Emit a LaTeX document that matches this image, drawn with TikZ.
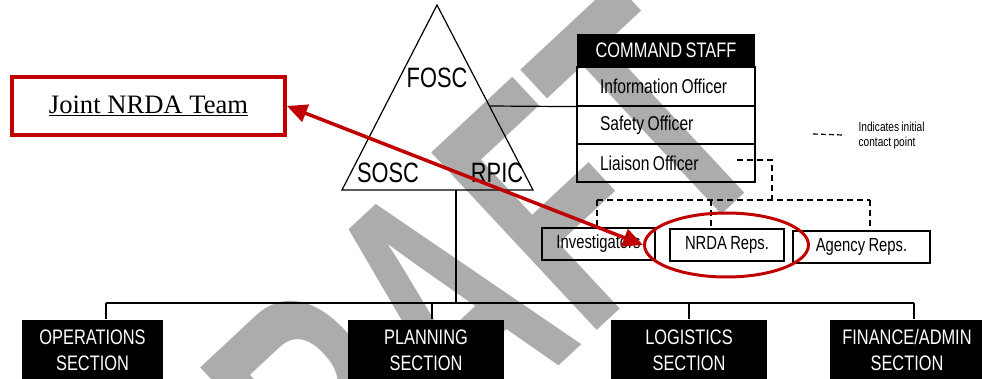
\documentclass[tikz,border=0pt]{standalone}
\usepackage{fontspec}
\usepackage{tikz}
\usetikzlibrary{shapes, arrows.meta, positioning}
\newfontfamily\orgfont{Liberation Sans}[FakeStretch=0.78, WordSpace=0.8]
\newfontfamily\notefont{Liberation Serif}
\newfontfamily\wmfont{Liberation Sans}[FakeStretch=0.62]
\definecolor{markred}{RGB}{192,0,0}
\definecolor{wmgray}{RGB}{172,172,172}

\begin{document}
\begin{tikzpicture}[x=1pt, y=-1pt, line width=1.2pt,
    section/.style={fill=black, text=white, minimum height=60pt, align=center, inner sep=0pt,
        font=\orgfont\fontsize{21}{26}\selectfont},
    staffrow/.style={draw, minimum width=178pt, text width=132pt, align=flush left, inner sep=0pt,
        font=\orgfont\fontsize{20}{24}\selectfont},
    repbox/.style={draw, minimum height=32pt, inner sep=0pt, font=\orgfont\fontsize{19}{22}\selectfont},
    initial/.style={dash pattern=on 6pt off 4pt},
    trilabel/.style={inner sep=0pt, font=\orgfont\fontsize{28}{30}\selectfont},
    markbox/.style={draw=markred, line width=4pt, inner sep=0pt},
    ]
    \useasboundingbox (0,0) rectangle (982,379);

    % watermark
    \begin{scope}
        \clip (0,0) rectangle (982,379);
        \node[rotate=43, text=wmgray, inner sep=0pt, font=\wmfont\bfseries\fontsize{353}{353}\selectfont] (wm) at (428,322) {DRAFT};
    \end{scope}

    % triangle
    \coordinate (apex) at (437,5);
    \coordinate (trileft) at (342,190);
    \coordinate (triright) at (533,190);
    \coordinate (tribase) at (456,190);
    \coordinate (trihit) at (489,106);
    \draw (apex) -- (trileft) -- (triright) -- cycle;
    \node[trilabel] (fosc) at (437,78) {FOSC};
    \node[trilabel] (sosc) at (388,173) {SOSC};
    \node[trilabel] (rpic) at (497,173) {RPIC};

    % command staff
    \node[fill=black, text=white, minimum width=178pt, minimum height=33pt, inner sep=0pt,
        font=\orgfont\fontsize{21}{24}\selectfont] (staff) at (666,50.5) {COMMAND STAFF};
    \node[staffrow, minimum height=39pt] (info) at (666,86.5) {Information Officer};
    \node[staffrow, minimum height=38pt] (safety) at (666,125) {Safety Officer};
    \node[staffrow, minimum height=38pt] (liaison) at (666,163) {Liaison Officer};
    \draw (trihit) -- (info.south west);

    % legend
    \coordinate (lgd) at (813,134);
    \node[anchor=west, inner sep=0pt, align=left, font=\orgfont\fontsize{13}{15}\selectfont] (lgdtxt) at (858,135.5) {Indicates initial\\contact point};
    \draw[dash pattern=on 5pt off 3pt, shorten >=13pt] (lgd) -- (lgdtxt.west);

    % reps
    \node[repbox, minimum width=113pt] (inv) at (598.5,244) {Investigators};
    \node[repbox, minimum width=114pt] (nrda) at (727,245) {NRDA Reps.};
    \node[repbox, minimum width=137pt] (agency) at (861.5,247) {Agency Reps.};

    \coordinate (ldash) at (737,160);
    \coordinate (dmid) at (772,200);
    \coordinate (dl) at (597,200);
    \coordinate (dn) at (711,200);
    \coordinate (dr) at (870,200);
    \draw[initial] (ldash) -| (dmid);
    \draw[initial] (dl) -- (dr);
    \draw[initial] (dl) -- (dl |- inv.north);
    \draw[initial] (dn) -- (dn |- nrda.north);
    \draw[initial] (dr) -- (dr |- agency.north);

    % sections
    \node[section, minimum width=141pt] (ops) at (92.5,350) {OPERATIONS\\SECTION};
    \node[section, minimum width=156pt] (plan) at (426,350) {PLANNING\\SECTION};
    \node[section, minimum width=156pt] (logi) at (689,350) {LOGISTICS\\SECTION};
    \node[section, minimum width=155pt] (fin) at (907,350) {FINANCE/ADMIN\\SECTION};

    \coordinate (busL) at (106,303);
    \coordinate (busR) at (914,303);
    \draw (busL) -- (busR);
    \draw (tribase) -- (tribase |- busL);
    \foreach \x/\n in {106/ops, 432/plan, 689/logi, 914/fin}
        \draw (\x,303) -- (\x,0 |- \n.north);

    % added marks
    \node[markbox, minimum width=273pt, minimum height=58pt,
        font=\notefont\fontsize{26.6}{30}\selectfont] (joint) at (148.5,106) {\underline{Joint NRDA Team}};
    \node[draw=markred, line width=3pt, ellipse, minimum width=164pt, minimum height=64pt] (ring) at (726.5,245) {};
    \draw[markred, line width=3.5pt, {Triangle[length=20pt,width=18pt]}-{Triangle[length=20pt,width=18pt]}] (joint.east) -- (ring.west);
\end{tikzpicture}
\end{document}
